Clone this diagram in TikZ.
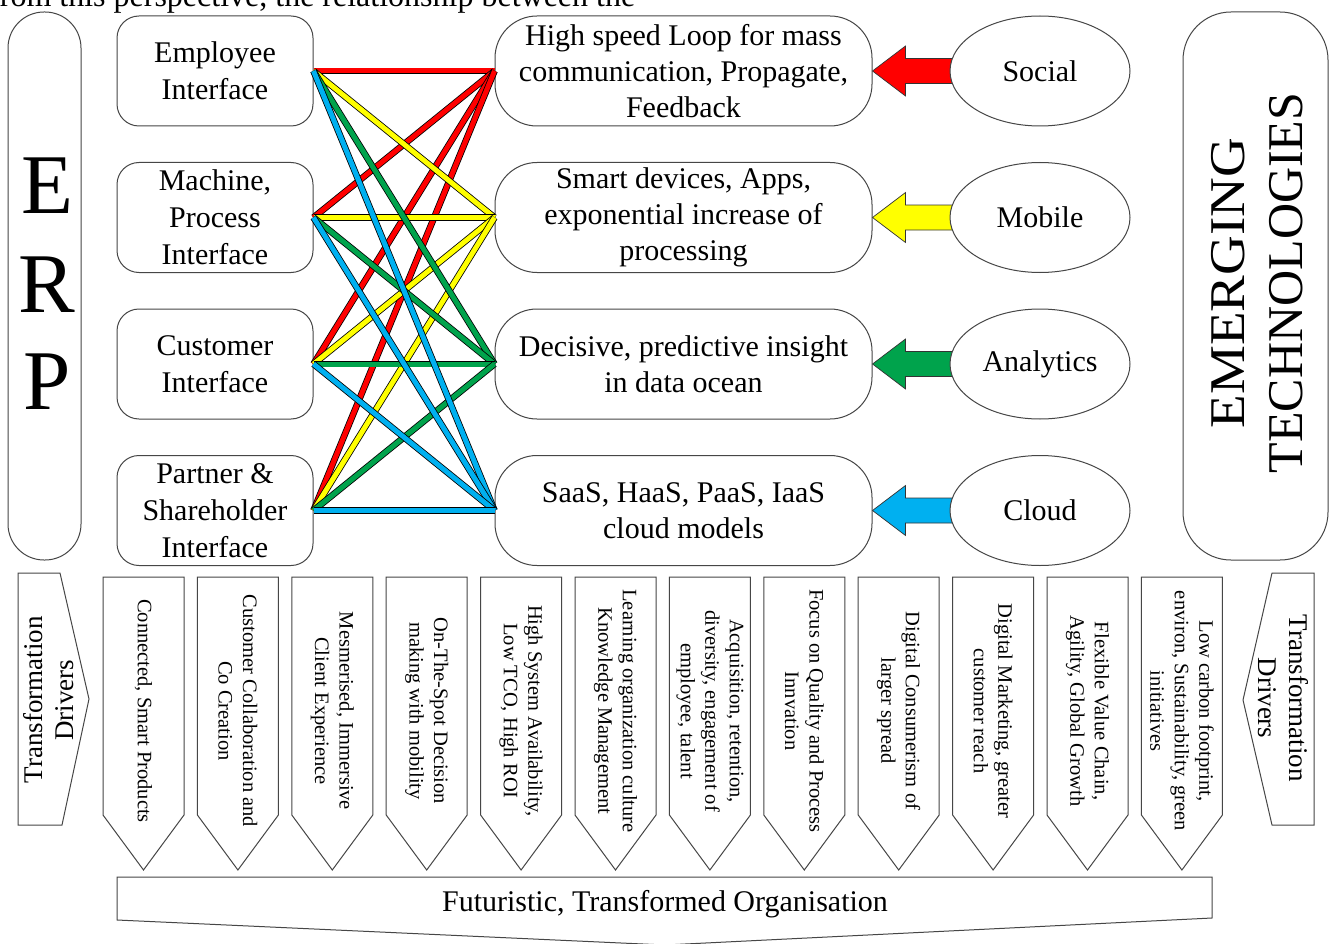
\documentclass[tikz,border=0pt]{standalone}
\usepackage{fontspec}
\setmainfont{Liberation Serif}
\usetikzlibrary{shapes.geometric}
\definecolor{cRed}{RGB}{255,0,0}
\definecolor{cYel}{RGB}{255,255,0}
\definecolor{cGrn}{RGB}{0,163,76}
\definecolor{cBlu}{RGB}{0,176,240}
\definecolor{edge}{RGB}{70,70,70}

\begin{document}
\begin{tikzpicture}[x=1pt,y=-1pt,
  outline/.style={draw=edge, line width=1pt},
  ifbox/.style={outline, fill=white, rectangle, rounded corners=22pt,
    minimum width=196pt, minimum height=110pt, inner sep=0pt, align=center,
    font=\fontsize{30}{37}\selectfont},
  midbox/.style={outline, fill=white, rectangle, rounded corners=42pt,
    minimum width=377pt, minimum height=110pt, inner sep=0pt, align=center,
    font=\fontsize{30}{36}\selectfont},
  tech/.style={outline, fill=white, ellipse, minimum width=180pt,
    minimum height=110pt, inner sep=0pt, font=\fontsize{30}{36}\selectfont},
  link/.style={draw=black, line width=0.8pt, double distance=5pt},
  barrow/.style={draw=black!80, line width=0.7pt},
  drvtext/.style={rotate=-90, align=center, inner sep=0pt,
    font=\fontsize{20.5}{24.5}\selectfont},
  sidetext/.style={align=center, inner sep=0pt, font=\fontsize{27}{31}\selectfont}
]
\path[use as bounding box, clip] (0,0) rectangle (1335,944);
\fill[white] (0,0) rectangle (1335,944);

% running text of the page above the figure
\node[anchor=base west, inner sep=0pt, font=\fontsize{32}{38}\selectfont] (caption)
  at (-11,7) {from this perspective, the relationship between the};

% ERP column
\node[outline, rectangle, rounded corners=36pt, minimum width=73pt,
  minimum height=548pt, inner sep=0pt] (erp) at (44.5,286) {};
\node[anchor=base, inner sep=0pt, font=\fontsize{85}{85}\selectfont] (erpE) at (47,213) {E};
\node[anchor=base, inner sep=0pt, font=\fontsize{85}{85}\selectfont] (erpR) at (47,312) {R};
\node[anchor=base, inner sep=0pt, font=\fontsize{85}{85}\selectfont] (erpP) at (47,409) {P};

% emerging technologies column
\node[outline, rectangle, rounded corners=48pt, minimum width=145pt,
  minimum height=548pt, inner sep=0pt] (emg) at (1255.5,286) {};
\node[rotate=90, align=center, inner sep=0pt, font=\fontsize{50}{58}\selectfont]
  (emgtext) at (1257,283) {\scalebox{1.1}[1]{EMERGING}\\TECHNOLOGIES};

% row heights shared by the three columns
\coordinate (r1) at (0,71);
\coordinate (r2) at (0,217.5);
\coordinate (r3) at (0,364);
\coordinate (r4) at (0,510.5);

% ERP interfaces
\path (215,0 |- r1) node[ifbox] (e1) {Employee\\Interface};
\path (215,0 |- r2) node[ifbox] (e2) {Machine,\\Process\\Interface};
\path (215,0 |- r3) node[ifbox] (e3) {Customer\\Interface};
\path (215,0 |- r4) node[ifbox] (e4) {Partner \&\\Shareholder\\Interface};

% what each technology brings
\path (683.5,0 |- r1) node[midbox] (m1) {High speed Loop for mass\\communication, Propagate,\\Feedback};
\path (683.5,0 |- r2) node[midbox] (m2) {Smart devices, Apps,\\exponential increase of\\processing};
\path (683.5,0 |- r3) node[midbox] (m3) {Decisive, predictive insight\\in data ocean};
\path (683.5,0 |- r4) node[midbox] (m4) {SaaS, HaaS, PaaS, IaaS\\cloud models};

% every interface is linked to every capability, coloured by technology
\foreach \a in {e1,e2,e3,e4} \draw[link, double=cRed] (\a.east) -- (m1.west);
\foreach \a in {e1,e2,e3,e4} \draw[link, double=cYel] (\a.east) -- (m2.west);
\foreach \a in {e1,e2,e3,e4} \draw[link, double=cGrn] (\a.east) -- (m3.west);
\foreach \a in {e1,e2,e3,e4} \draw[link, double=cBlu] (\a.east) -- (m4.west);

% block arrows from the technologies
\foreach \m/\c in {m1/cRed, m2/cYel, m3/cGrn, m4/cBlu}
  \draw[barrow, fill=\c] (\m.east) -- ++(33,-25) -- ++(0,12.5) -- ++(50,0)
    -- ++(0,25) -- ++(-50,0) -- ++(0,12.5) -- cycle;

\path (1040,0 |- r1) node[tech] (t1) {Social};
\path (1040,0 |- r2) node[tech] (t2) {Mobile};
\path (1040,0 |- r3) node[tech] (t3) {Analytics};
\path (1040,0 |- r4) node[tech] (t4) {Cloud};

% transformation driver side arrows
\draw[outline] (18,573) -- (60,573) -- (89,699) -- (62,825) -- (18,825) -- cycle;
\node[sidetext, rotate=90] (tdl) at (49,700) {Transformation\\Drivers};
\draw[outline] (1314,573) -- (1272,573) -- (1243,700) -- (1272,825) -- (1314,825) -- cycle;
\node[sidetext, rotate=-90] (tdr) at (1283,698) {Transformation\\Drivers};

% downward driver arrows
\foreach \k in {0,...,11}
  \draw[outline] ({103+94.4*\k},577) -- ++(81,0) -- ++(0,238) -- ++(-40.5,55)
    -- ++(-40.5,-55) -- cycle;
\node[drvtext] (d1) at (143.5,711) {Connected, Smart Products};
\node[drvtext] (d2) at (237.9,711) {Customer Collaboration and\\Co Creation};
\node[drvtext] (d3) at (332.3,711) {Mesmerised, Immersive\\Client Experience};
\node[drvtext] (d4) at (426.7,711) {On-The-Spot Decision\\making with mobility};
\node[drvtext] (d5) at (521.1,711) {High System Availability,\\Low TCO, High ROI};
\node[drvtext] (d6) at (615.5,711) {Learning organization culture\\Knowledge Management};
\node[drvtext] (d7) at (709.9,711) {Acquisition, retention,\\diversity, engagement of\\employee, talent};
\node[drvtext] (d8) at (804.3,711) {Focus on Quality and Process\\Innvation};
\node[drvtext] (d9) at (898.7,711) {Digital Consumerism of\\larger spread};
\node[drvtext] (d10) at (993.1,711) {Digital Marketing, greater\\customer reach};
\node[drvtext] (d11) at (1087.5,711) {Flexible Value Chain,\\Agility, Global Growth};
\node[drvtext] (d12) at (1181.9,711) {Low carbon footprint,\\environ, Sustainability, green\\initiatives};

% resulting organisation
\draw[outline] (117,877) -- (1212,877) -- (1212,918) -- (665,945) -- (117,920) -- cycle;
\node[inner sep=0pt, font=\fontsize{30}{36}\selectfont] (org) at (665,904)
  {Futuristic, Transformed Organisation};
\end{tikzpicture}
\end{document}
